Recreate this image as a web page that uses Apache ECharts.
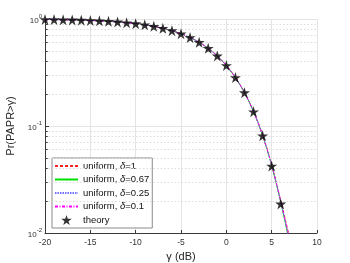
<!DOCTYPE html>
<html>
<head>
<meta charset="utf-8">
<script src="https://cdn.jsdelivr.net/npm/echarts@6/dist/echarts.min.js"></script>
<style>html,body{margin:0;padding:0;background:#fff}#c{width:350px;height:263px}</style>
</head>
<body>
<div id="c"></div>
<script>
// ---- data ----
var gammaTheory = [-20,-19,-18,-17,-16,-15,-14,-13,-12,-11,-10,-9,-8,-7,-6,-5,-4,-3,-2,-1,0,1,2,3,4,5,6];
var theory = [0.990,0.9875,0.9843,0.9802,0.9752,0.9689,0.9610,0.9511,0.9389,0.9236,0.9048,0.8817,0.8534,0.8191,0.7779,0.7289,0.6716,0.6058,0.5321,0.4519,0.3679,0.2839,0.2050,0.1360,0.0811,0.0423,0.0187];

var gammaSim = [-20,-19,-18,-17,-16,-15,-14,-13,-12,-11,-10,-9,-8,-7,-6,-5.5,-5,-4.5,-4,-3.5,-3,-2.5,-2,-1.5,-1,-0.5,0,0.5,1,1.5,2,2.5,3,3.5,4,4.5,5,5.5,6,6.5,7];
var simD1   = [0.990,0.9876,0.9844,0.9803,0.9753,0.9690,0.9611,0.9512,0.9390,0.9237,0.9049,0.8818,0.8535,0.8192,0.7780,0.7545,0.7290,0.7014,0.6718,0.6400,0.6060,0.5702,0.5324,0.4931,0.4523,0.4106,0.3684,0.3262,0.2846,0.2442,0.2059,0.1700,0.1371,0.1078,0.0824,0.0610,0.0436,0.0300,0.0200,0.0135,0.0088];
var simD067 = [0.990,0.9875,0.9843,0.9802,0.9752,0.9689,0.9610,0.9511,0.9389,0.9236,0.9048,0.8817,0.8534,0.8191,0.7779,0.7544,0.7289,0.7013,0.6716,0.6398,0.6058,0.5699,0.5321,0.4927,0.4519,0.4101,0.3679,0.3256,0.2839,0.2434,0.2050,0.1690,0.1362,0.1070,0.0816,0.0602,0.0428,0.0293,0.0193,0.0125,0.0078];
var simD025 = [0.990,0.9875,0.9843,0.9802,0.9752,0.9689,0.9610,0.9511,0.9389,0.9236,0.9048,0.8817,0.8534,0.8191,0.7779,0.7544,0.7289,0.7013,0.6717,0.6399,0.6059,0.5700,0.5322,0.4929,0.4521,0.4103,0.3681,0.3258,0.2842,0.2437,0.2054,0.1694,0.1366,0.1073,0.0819,0.0605,0.0431,0.0296,0.0196,0.0128,0.0082];
var simD01  = [0.990,0.9876,0.9844,0.9803,0.9753,0.9690,0.9611,0.9512,0.9390,0.9237,0.9049,0.8818,0.8535,0.8192,0.7780,0.7545,0.7290,0.7014,0.6717,0.6399,0.6059,0.5701,0.5323,0.4930,0.4522,0.4105,0.3683,0.3260,0.2844,0.2440,0.2057,0.1697,0.1369,0.1076,0.0822,0.0608,0.0434,0.0298,0.0198,0.0131,0.0085];

var seriesNames = ['uniform, δ=1','uniform, δ=0.67','uniform, δ=0.25','uniform, δ=0.1','theory'];
var xTicks = [-20,-15,-10,-5,0,5,10];
var yMajor = [0.01,0.1,1];
var yMinor = [0.02,0.03,0.04,0.05,0.06,0.07,0.08,0.09,0.2,0.3,0.4,0.5,0.6,0.7,0.8,0.9];

// ---- chart ----
var FONT = 'Liberation Sans, Arial, sans-serif';
var AX = '#3a3a3a';
function pairs(xs, ys){ return xs.map(function(x,i){ return [x, ys[i]]; }); }
var STAR = 'path://M50,0 L61.2,34.5 L97.6,34.5 L68.2,55.9 L79.4,90.5 L50,69.1 L20.6,90.5 L31.8,55.9 L2.4,34.5 L38.8,34.5 Z';

var chart = echarts.init(document.getElementById('c'), null, {renderer:'canvas'});
function lineSeries(name, data, color, type, width){
  return {
    name: name, type: 'line', data: pairs(gammaSim, data),
    symbol: 'none', showSymbol: false, clip: true,
    lineStyle: {color: color, type: type, width: width}, itemStyle:{color: color},
    z: 3, animation: false
  };
}
var minorGrid = yMinor.map(function(v){ return {yAxis: v}; });
var minorTicks = yMinor.map(function(v){ return [{coord:[xTicks[0], v]},{coord:[xTicks[0]+0.3, v]}]; });
var hidden = {color: 'rgba(0,0,0,0)', borderColor: 'rgba(0,0,0,0)', borderWidth: 0, opacity: 0};

chart.setOption({
  animation: false,
  backgroundColor: '#fff',
  grid: {left: 45, right: 33, top: 19, bottom: 30, containLabel: false, outerBoundsMode: 'none'},
  xAxis: {
    type: 'value', min: -20, max: 10, interval: 5,
    name: 'γ (dB)', nameLocation: 'middle', nameGap: 18,
    nameTextStyle: {fontFamily: FONT, fontSize: 11, color: '#262626'},
    axisLine: {show: true, onZero: false, lineStyle: {color: AX, width: 1}},
    axisTick: {show: true, inside: true, length: 3, lineStyle: {color: AX}},
    axisLabel: {fontFamily: FONT, fontSize: 8.5, color: '#333', margin: 5},
    splitLine: {show: true, lineStyle: {color: '#e4e4e4', width: 1}}
  },
  yAxis: {
    type: 'log', logBase: 10, min: 0.01, max: 1,
    name: 'Pr(PAPR>γ)', nameLocation: 'middle', nameGap: 22,
    nameTextStyle: {fontFamily: FONT, fontSize: 11, color: '#262626'},
    axisLine: {show: true, onZero: false, lineStyle: {color: AX, width: 1}},
    axisTick: {show: true, inside: true, length: 4, lineStyle: {color: AX}},
    axisLabel: {
      margin: 3,
      formatter: function(v){ var e = Math.round(Math.log(v)/Math.LN10); return '{b|10}{s|' + e + '}'; },
      rich: {
        b: {fontFamily: FONT, fontSize: 8, color: '#333', lineHeight: 12, verticalAlign: 'bottom'},
        s: {fontFamily: FONT, fontSize: 6, color: '#333', lineHeight: 12, verticalAlign: 'top'}
      }
    },
    splitLine: {show: true, lineStyle: {color: '#e4e4e4', width: 1}}
  },
  legend: {
    orient: 'vertical', left: 52, top: 158,
    padding: [3, 3, 3, 2], itemGap: 3.5, itemWidth: 23, itemHeight: 10,
    backgroundColor: '#fff', borderColor: '#8a8a8a', borderWidth: 1, borderRadius: 0,
    data: seriesNames.slice(0,4).map(function(n){ return {name: n, itemStyle: hidden}; })
      .concat([{name: seriesNames[4], icon: STAR}]),
    formatter: function(n){ return n.replace('δ', '{i|δ}'); },
    textStyle: {fontFamily: FONT, fontSize: 9.5, color: '#111',
      rich: {i: {fontFamily: FONT, fontSize: 9.5, fontStyle: 'italic', color: '#111'}}},
    selectedMode: false
  },
  series: [
    {
      type: 'line', data: [], silent: true, symbol: 'none',
      markLine: {silent: true, symbol: 'none', label: {show: false}, animation: false,
        lineStyle: {color: '#dcdcdc', type: [1.5, 2], width: 1}, data: minorGrid}
    },
    {
      type: 'line', data: [], silent: true, symbol: 'none',
      markLine: {silent: true, symbol: 'none', label: {show: false}, animation: false,
        lineStyle: {color: AX, type: 'solid', width: 1}, data: minorTicks}
    },
    lineSeries(seriesNames[0], simD1, '#ff2020', [3, 2], 1),
    lineSeries(seriesNames[1], simD067, '#00e000', 'solid', 1),
    lineSeries(seriesNames[2], simD025, '#7070ff', [1.5, 1], 1),
    lineSeries(seriesNames[3], simD01, '#ff00ff', [3, 1.5, 1, 1.5], 1),
    {
      name: seriesNames[4], type: 'scatter', data: pairs(gammaTheory, theory),
      symbol: STAR, symbolSize: 11, clip: false,
      itemStyle: {color: '#000'}, z: 5
    }
  ]
});
</script>
</body>
</html>
